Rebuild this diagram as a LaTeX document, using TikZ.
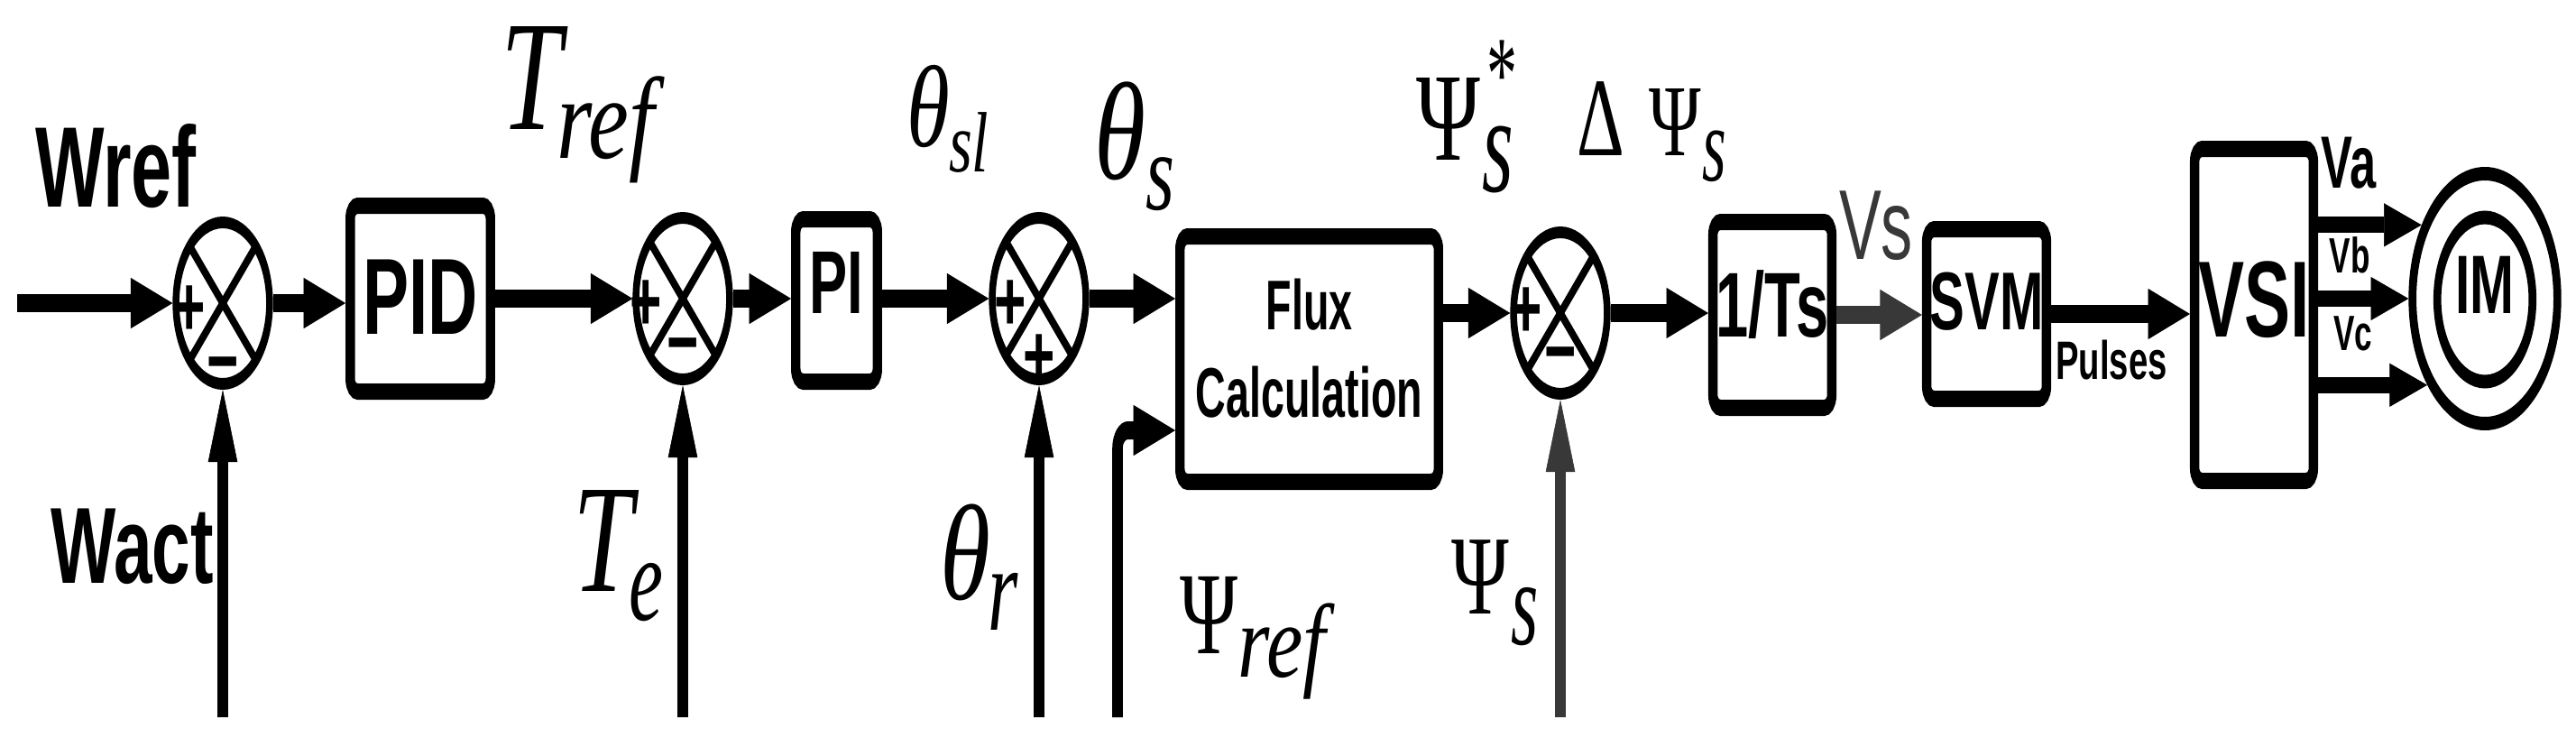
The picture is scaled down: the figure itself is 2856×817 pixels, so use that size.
\documentclass[tikz,border=0pt]{standalone}
\usepackage{fontspec}
\usepackage{graphicx}
\usetikzlibrary{arrows.meta}
\newfontfamily\lsans[FakeStretch=1.1]{Liberation Sans}
\newfontfamily\lsansn[FakeStretch=1.03]{Liberation Sans}
\newfontfamily\lserif{Liberation Serif}
\definecolor{dg}{HTML}{383838}
\newcommand\fs[1]{\fontsize{#1}{#1}\selectfont}
\newcommand\lsi{\lserif\itshape}
\newcommand\lsu{\lserif\upshape}
% label piece: dx (target px), raise, xscale, size, content
\newcommand\pc[5]{\makebox[0pt][l]{\hspace*{\dimexpr#1pt*100/58\relax}\raisebox{#2pt}{\scalebox{#3}[1]{\fs{#4}#5}}}}
\newcommand\mw[1]{\hspace*{\dimexpr#1pt*100/58\relax}}
\newcommand\ctr[2]{\smash{\raisebox{#1pt}{#2}}}
\begin{document}
\begin{tikzpicture}[x=1pt,y=-1pt]
\useasboundingbox (0,0) rectangle (2856,817);
\begin{scope}[transform canvas={xscale=0.58}, x=1.72414pt,
  box/.style={draw, line width=18pt, rounded corners=14pt, inner sep=0pt, font=\lsans\bfseries},
  sj/.style={circle, draw, line width=13pt, minimum size=179pt, inner sep=0pt},
  xl/.style={line width=11pt},
  sgn/.style={inner sep=0pt, anchor=base, yshift=-33.5pt, font=\lsans\bfseries\fs{95}},
  arr/.style={line width=20pt, -{Triangle[length=80pt,width=56pt,line width=1pt]}},
  arrb/.style={line width=18pt, -{Triangle[length=72pt,width=48pt,line width=1pt]}},
  lbl/.style={inner sep=0pt, anchor=base west},
  txt/.style={inner sep=0pt, anchor=base, font=\lsans\bfseries}]

% blocks
\node[sj] (j1) at (247,336) {};
\node[box, minimum width=268pt, minimum height=206pt] (pid) at (466,331) {\fs{120}\ctr{-39}{PID}};
\node[sj] (j2) at (757,331) {};
\node[box, minimum width=156pt, minimum height=180pt] (pi) at (927.5,333) {\fs{99}\ctr{-14}{PI}};
\node[sj] (j3) at (1152,331) {};
\node[box, font=\lsansn\bfseries, minimum width=494pt, minimum height=272pt] (flux) at (1451.5,398)
  {\fontsize{78}{97}\selectfont\ctr{33}{\begin{tabular}[t]{@{}c@{}}Flux\\Calculation\end{tabular}}};
\node[sj] (j4) at (1730,347) {};
\node[box, minimum width=227pt, minimum height=206pt] (ts) at (1965,349) {\fs{102}\ctr{-24}{1/Ts}};
\node[box, minimum width=229pt, minimum height=188pt] (svm) at (2202.5,348) {\fs{91}\ctr{-17}{SVM}};
\node[box, minimum width=227pt, minimum height=368pt] (vsi) at (2499,349) {\fs{120}\ctr{-24}{VSI}};
\node[circle, draw, line width=15pt, minimum size=277pt, inner sep=0pt] (im) at (2755,331) {};
\node[circle, draw, line width=15pt, minimum size=182pt, inner sep=0pt, font=\lsans\bfseries] (imc) at (2755,332) {\fs{92}\ctr{-15}{IM}};

% summing junction crosses
\foreach \j in {j1,j2,j3,j4} {
  \draw[xl] (\j.center) +(45:89.5pt) -- +(225:89.5pt);
  \draw[xl] (\j.center) +(135:89.5pt) -- +(315:89.5pt);
}
% signs
\node[sgn] (p1) at ([shift={(-37,3)}]j1.center) {+};
\node[sgn] (m1) at ([shift={(0,63)}]j1.center) {−};
\node[sgn] (p2) at ([shift={(-41,2)}]j2.center) {+};
\node[sgn] (m2) at ([shift={(0,47)}]j2.center) {−};
\node[sgn] (p3) at ([shift={(-32,2)}]j3.center) {+};
\node[sgn] (p3b) at ([shift={(0,62)}]j3.center) {+};
\node[sgn] (p4) at ([shift={(-38,-6)}]j4.center) {+};
\node[sgn] (m4) at ([shift={(0,41)}]j4.center) {−};

% free ends
\coordinate (wrefin) at (19,336);
\coordinate (wactin) at (247,795);
\coordinate (tein) at (757,795);
\coordinate (thrin) at (1152,795);
\coordinate (psrin) at (1239,795);
\coordinate (psry) at (0,477);
\coordinate (pssin) at (1730,795);

% connectors
\draw[arr] (wrefin) -- (j1.west);
\draw[arr] (j1.east) -- (j1.east -| pid.west);
\draw[arr] (pid.east |- j2.west) -- (j2.west);
\draw[arr] (j2.east) -- (j2.east -| pi.west);
\draw[arr] (pi.east |- j3.west) -- (j3.west);
\draw[arr] (j3.east) -- (j3.east -| flux.west);
\draw[arr] (flux.east |- j4.west) -- (j4.west);
\draw[arr] (j4.east) -- (j4.east -| ts.west);
\draw[arr, dg] (ts.east) -- (ts.east -| svm.west);
\draw[arr] (svm.east) -- (svm.east -| vsi.west);
\draw[arrb] (vsi.east |- im.146.3) -- (im.146.3);
\draw[arrb] (vsi.east |- im.west) -- (im.west);
\draw[arrb] (vsi.east |- im.221.1) -- (im.221.1);
\draw[arr] (wactin) -- (j1.south);
\draw[arr] (tein) -- (j2.south);
\draw[arr] (thrin) -- (j3.south);
\draw[arr, rounded corners=20pt] (psrin) |- (flux.west |- psry);
\draw[arr, dg] (pssin) -- (j4.south);

% sans labels
\node[txt] (wref) at (128.5,229) {\fs{127}Wref};
\node[txt] (wact) at (147,646) {\fs{120}Wact};
\node[txt, font=\lsans, text=dg] (vs) at (2080,287) {\fs{110}Vs};
\node[txt] (pulses) at (2341,420) {\fs{60}Pulses};
\node[txt] (va) at (2604,208) {\fs{82}Va};
\node[txt] (vb) at (2605,302) {\fs{55}Vb};
\node[txt] (vc) at (2609,388) {\fs{55}Vc};

% math-style labels
\node[lbl] (tref) at (555,143) {\pc{0}{0}{1.2}{174}{\lsi T}\pc{62}{-32}{1.35}{129}{\lsi ref}\mw{185}};
\node[lbl] (te) at (635,655) {\pc{0}{0}{1.2}{171}{\lsi T}\pc{62}{-32}{1.1}{134}{\lsi e}\mw{95}};
\node[lbl] (thsl) at (1005,162) {\pc{0}{0}{1.3}{129}{\lsi θ}\pc{47}{-28}{1.2}{95}{\lsi sl}\mw{95}};
\node[lbl] (ths) at (1213,198) {\pc{0}{0}{1.3}{154}{\lsi θ}\pc{57}{-34}{1.15}{123}{\lsi s}\mw{89}};
\node[lbl] (thr) at (1042,664) {\pc{0}{0}{1.3}{151}{\lsi θ}\pc{53}{-34}{1.1}{134}{\lsi r}\mw{90}};
\node[lbl] (psiref) at (1308,724) {\pc{0}{0}{1.15}{130}{\lsu Ψ}\pc{64}{-26}{1.35}{116}{\lsi ref}\mw{188}};
\node[lbl] (psisstar) at (1570,177) {\pc{0}{0}{1.19}{139}{\lsu Ψ}\pc{73}{-35}{1.0}{154}{\lsi s}\pc{78}{56}{1}{117}{\lsu *}\mw{110}};
\node[lbl] (dpsis) at (1748,172) {\pc{0}{0}{1.14}{124}{\lsu Δ}\pc{80}{0}{1.19}{113}{\lsu Ψ}\pc{139}{-28}{1.0}{118}{\lsi s}\mw{165}};
\node[lbl] (psis) at (1609,680) {\pc{0}{0}{1.19}{125}{\lsu Ψ}\pc{66}{-34}{1.0}{134}{\lsi s}\mw{96}};
\end{scope}
\end{tikzpicture}
\end{document}
